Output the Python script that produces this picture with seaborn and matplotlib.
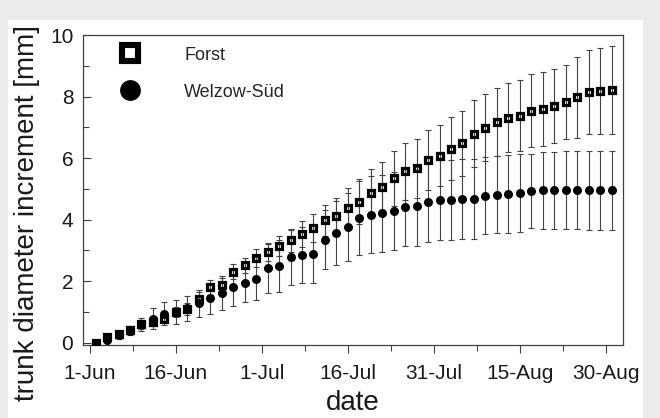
import numpy as np
import pandas as pd
import seaborn as sns
import matplotlib.pyplot as plt
from matplotlib.lines import Line2D
from matplotlib.patches import Rectangle

# days after 1 June (every second day)
days = list(range(1, 92, 2))

forst = [0.0, 0.2, 0.3, 0.42, 0.6, 0.68, 0.78, 1.0, 1.1, 1.43,
         1.8, 1.87, 2.31, 2.52, 2.75, 2.95, 3.14, 3.33, 3.53, 3.74,
         3.98, 4.12, 4.38, 4.59, 4.87, 5.07, 5.34, 5.57, 5.67, 5.93,
         6.08, 6.31, 6.48, 6.80, 6.99, 7.18, 7.31, 7.38, 7.54, 7.60,
         7.70, 7.81, 7.97, 8.15, 8.17, 8.21]
forst_sd = [0.05, 0.08, 0.1, 0.12, 0.15, 0.12, 0.15, 0.15, 0.2, 0.22,
            0.25, 0.25, 0.25, 0.25, 0.3, 0.3, 0.32, 0.38, 0.42, 0.45,
            0.5, 0.58, 0.65, 0.72, 0.78, 0.82, 0.88, 0.92, 0.95, 0.98,
            1.0, 1.02, 1.05, 1.08, 1.08, 1.1, 1.12, 1.15, 1.18, 1.2,
            1.2, 1.2, 1.3, 1.35, 1.4, 1.42]

welzow = [0.0, 0.1, 0.25, 0.4, 0.6, 0.79, 0.95, 1.0, 1.12, 1.28,
          1.45, 1.63, 1.81, 1.95, 2.08, 2.42, 2.5, 2.78, 2.85, 2.9,
          3.35, 3.57, 3.77, 4.05, 4.16, 4.21, 4.28, 4.41, 4.44, 4.56,
          4.63, 4.65, 4.67, 4.67, 4.78, 4.81, 4.83, 4.87, 4.93, 4.96,
          4.96, 4.96, 4.96, 4.96, 4.96, 4.96]
welzow_sd = [0.03, 0.08, 0.12, 0.15, 0.22, 0.33, 0.38, 0.38, 0.4, 0.43,
             0.5, 0.55, 0.6, 0.63, 0.7, 0.8, 0.85, 0.9, 0.92, 0.95,
             0.95, 1.05, 1.1, 1.2, 1.25, 1.25, 1.27, 1.27, 1.28, 1.28,
             1.3, 1.3, 1.3, 1.3, 1.25, 1.25, 1.27, 1.27, 1.2, 1.25,
             1.25, 1.26, 1.27, 1.28, 1.28, 1.28]

tick_days = [0, 15, 30, 45, 60, 75, 90]
tick_labels = ["1-Jun", "16-Jun", "1-Jul", "16-Jul", "31-Jul", "15-Aug", "30-Aug"]

df = pd.DataFrame({"day": days, "Forst": forst, "Welzow-Süd": welzow})

sns.set_style("ticks")
plt.rcParams["font.family"] = ["Liberation Sans", "DejaVu Sans"]

fig = plt.figure(figsize=(6.6, 4.18), dpi=100)
fig.patch.set_facecolor("#ececec")
fig.add_artist(Rectangle((8 / 660, 0), 635 / 660, 398 / 418, transform=fig.transFigure,
                         facecolor="white", edgecolor="none", zorder=0))
ax = fig.add_axes([83 / 660, 73 / 418, 540 / 660, 310 / 418])
ax.set_facecolor("white")

# error bars
ax.errorbar(days, welzow, yerr=welzow_sd, fmt="none", ecolor="#444444",
            elinewidth=0.8, capsize=2.5, capthick=0.8, zorder=1)
ax.errorbar(days, forst, yerr=forst_sd, fmt="none", ecolor="#444444",
            elinewidth=0.8, capsize=2.5, capthick=0.8, zorder=1)

# markers
sns.lineplot(data=df, x="day", y="Welzow-Süd", ax=ax, marker="o", linestyle="",
             color="black", markersize=6.5, markeredgewidth=0, zorder=3)
sns.lineplot(data=df, x="day", y="Forst", ax=ax, marker="s", linestyle="",
             color="black", markerfacecolor="none", markeredgecolor="black",
             markersize=4.6, markeredgewidth=2.3, zorder=4)

ax.set_xlim(-1.2, 93)
ax.set_ylim(-0.07, 10)
ax.set_xticks(tick_days)
ax.set_xticklabels(tick_labels)
ax.set_xticks([7.5, 22.5, 37.5, 52.5, 67.5, 82.5], minor=True)
ax.set_yticks([0, 2, 4, 6, 8, 10])
ax.set_yticks([1, 3, 5, 7, 9], minor=True)

ax.tick_params(axis="x", which="major", direction="out", length=6, width=0.8,
               color="#404040", labelsize=15, pad=8, labelcolor="#1a1a1a")
ax.tick_params(axis="x", which="minor", direction="out", length=4, width=0.8, color="#404040")
ax.tick_params(axis="y", which="major", direction="in", length=6, width=0.8,
               color="#404040", labelsize=15, pad=7, labelcolor="#1a1a1a")
ax.tick_params(axis="y", which="minor", direction="in", length=4, width=0.8, color="#404040")
for s in ax.spines.values():
    s.set_visible(True)
    s.set_color("#404040")
    s.set_linewidth(0.9)

ax.set_xlabel("date", fontsize=20, color="#1a1a1a", labelpad=5)
ax.set_ylabel("trunk diameter increment [mm]", fontsize=20, color="#1a1a1a")
ax.yaxis.set_label_coords(-0.079, 0.426)

handles = [
    Line2D([], [], marker="s", linestyle="", markerfacecolor="none", markeredgecolor="black",
           markersize=11, markeredgewidth=4.4),
    Line2D([], [], marker="o", linestyle="", color="black", markersize=15, markeredgewidth=0),
]
ax.legend(handles, ["Forst", "Welzow-Süd"], loc="upper left", bbox_to_anchor=(0.054, 0.962),
          frameon=False, fontsize=13, borderpad=0, borderaxespad=0, handlelength=2,
          handletextpad=2.0, labelspacing=1.1)

fig.savefig("out.png", dpi=100)
